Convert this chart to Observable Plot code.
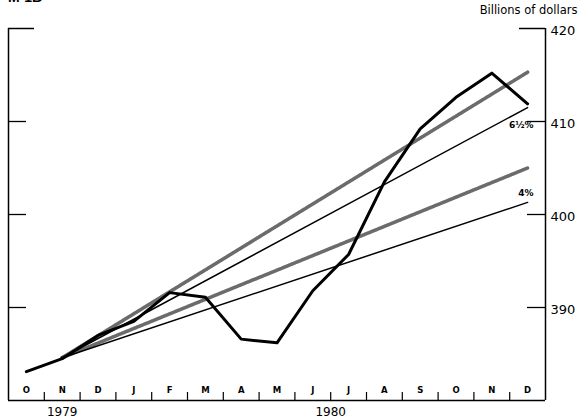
<!DOCTYPE html>
<html><head><meta charset="utf-8">
<script src="https://cdn.jsdelivr.net/npm/d3@7"></script>
<script src="https://cdn.jsdelivr.net/npm/@observablehq/plot@0.6"></script>
<style>
body{margin:0;background:#fff;}
#wrap{position:relative;width:581px;height:418px;overflow:hidden;}
#title{position:absolute;left:8px;top:-11px;font:bold 14px "Liberation Sans",sans-serif;}
</style>
</head><body><div id="wrap"><div id="title">M-1B</div></div>
<script>
// Months Oct 1979 .. Dec 1980
const months = ["O","N","D","J","F","M","A","M","J","J","A","S","O","N","D"];
const years = ["1979","1980"];
const yearPos = [1.5, 9];
// Actual M-1B, billions of dollars (monthly)
const actual = [383.1,384.5,387.0,388.5,391.6,391.1,386.6,386.2,391.8,395.7,403.5,409.2,412.6,415.2,411.9];
// Target cone: base at Nov 1979 (Q4 average), ends at Dec 1980
const coneBase = 384.6;
const coneNames = ["6½%","4%"];
const coneEnds = [411.5,401.3];
// Shaded (adjusted) range lines
const shadedEnds = [415.3,405.0];
const yTicks = [390,400,410,420];

const baseX = 1.5, endX = 14.5;
const actualData = actual.map((v,i)=>({x:i+0.5, y:v}));
const coneData = coneNames.flatMap((n,i)=>[{name:n,x:baseX,y:coneBase},{name:n,x:endX,y:coneEnds[i]}]);
const coneLabels = coneNames.map((n,i)=>({name:n,x:endX,y:coneEnds[i]}));
const shadedData = shadedEnds.flatMap((e,i)=>[{k:i,x:baseX,y:coneBase},{k:i,x:endX,y:e}]);
const monthData = months.map((m,i)=>({m, x:i+0.5}));
const yearData = years.map((y,i)=>({y, x:yearPos[i]}));

const chart = Plot.plot({
  width:581, height:418,
  marginLeft:8, marginRight:36, marginTop:28, marginBottom:18,
  x:{domain:[0,15], axis:null},
  y:{domain:[380,420], axis:null},
  style:{fontFamily:"'DejaVu Sans', sans-serif", background:"transparent", color:"#000"},
  marks:[
    // frame
    Plot.ruleX([0,15], {y1:380, y2:420, stroke:"#000", strokeWidth:1.5}),
    Plot.ruleY([380], {x1:0, x2:15, stroke:"#000", strokeWidth:1.5}),
    // month separators
    Plot.ruleX(d3.range(1,15), {insetTop:364, stroke:"#000", strokeWidth:1.2}),
    // inward y ticks
    Plot.ruleY(yTicks.filter(t=>t<420), {insetRight:519, stroke:"#000", strokeWidth:1.3}),
    Plot.ruleY(yTicks.filter(t=>t===420), {insetRight:511, stroke:"#000", strokeWidth:1.5}),
    Plot.ruleY(yTicks.filter(t=>t<420), {insetLeft:519, stroke:"#000", strokeWidth:1.3}),
    Plot.ruleY(yTicks.filter(t=>t===420), {insetLeft:511, stroke:"#000", strokeWidth:1.5}),
    Plot.axisY(yTicks, {anchor:"right", tickSize:0, tickPadding:5, dy:2, fontSize:13, label:null}),
    // shaded lines
    Plot.line(shadedData, {x:"x", y:"y", z:"k", stroke:"#b4b4b4", strokeWidth:3.5}),
    Plot.line(shadedData, {x:"x", y:"y", z:"k", stroke:"#222", strokeWidth:3.5, strokeDasharray:"0.8,1.4", strokeOpacity:0.5}),
    // cone lines
    Plot.line(coneData, {x:"x", y:"y", z:"name", stroke:"#000", strokeWidth:1.5}),
    Plot.text(coneLabels.slice(0,1), {x:"x", y:"y", text:"name", textAnchor:"end", dx:6, dy:18, fontSize:9, fontWeight:"bold"}),
    Plot.text(coneLabels.slice(1), {x:"x", y:"y", text:"name", textAnchor:"end", dx:6, dy:-9, fontSize:9, fontWeight:"bold"}),
    // actual
    Plot.line(actualData, {x:"x", y:"y", stroke:"#000", strokeWidth:3, strokeLinejoin:"round"}),
    // month labels
    Plot.text(monthData, {x:"x", y:380, text:"m", dy:-10, fontSize:8.5, fontWeight:"bold"}),
    // years
    Plot.text(yearData, {x:"x", y:380, text:"y", dy:12, fontSize:12, letterSpacing:1.5}),
    // units
    Plot.text(["Billions of dollars"], {frameAnchor:"top-right", text:d=>d, dx:32, dy:-15, lineAnchor:"bottom", textAnchor:"end", fontSize:11.5})
  ]
});
document.getElementById("wrap").appendChild(chart);
</script>
</body></html>
